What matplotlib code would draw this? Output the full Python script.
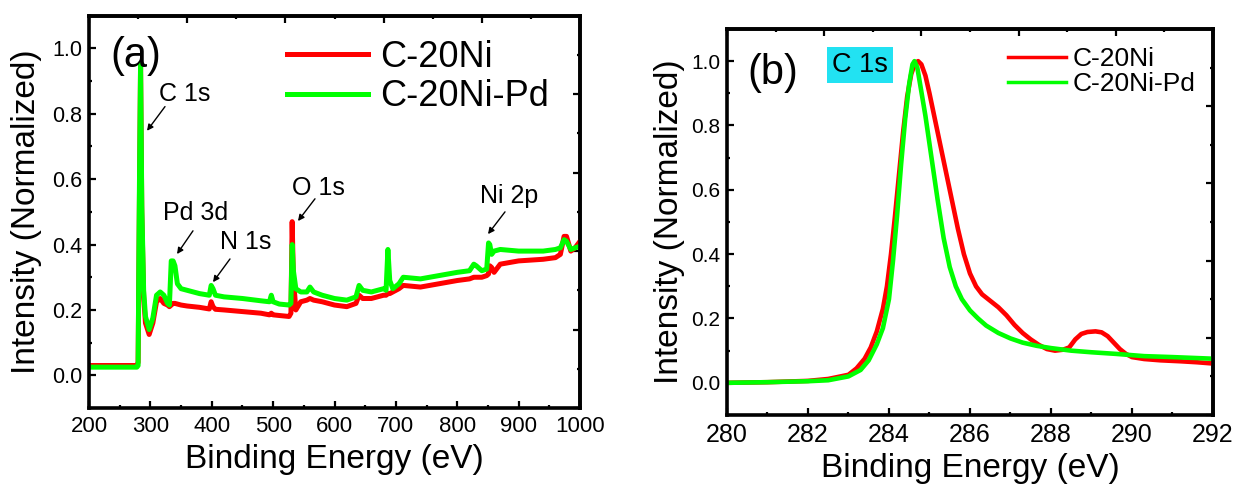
import numpy as np
import matplotlib
matplotlib.use("Agg")
import matplotlib.pyplot as plt
from matplotlib.ticker import FixedLocator, MultipleLocator, FormatStrFormatter

plt.rcParams['font.family'] = ['Liberation Sans', 'DejaVu Sans']

# ---------------- data : panel (a) survey ----------------
survey_x = [200, 250, 278, 280, 282, 284, 286, 289, 292, 298, 304, 310, 316, 322, 328,
            331, 334, 337, 340, 344, 350, 360, 380, 396, 399, 402, 406, 420, 450, 480,
            494, 497, 500, 510, 526, 529, 531, 533, 537, 545, 555, 560, 566, 580, 600,
            620, 635, 640, 646, 660, 680, 684, 687, 690, 695, 705, 712, 740, 770, 800,
            820, 827, 831, 840, 848, 851, 853, 856, 860, 870, 900, 940, 960, 968, 974,
            978, 985, 992, 1000]
survey_ni = [0.030, 0.030, 0.030, 0.040, 0.50, 0.950, 0.50, 0.24, 0.16, 0.125, 0.16, 0.225, 0.235, 0.220, 0.215,
             0.210, 0.215, 0.220, 0.220, 0.218, 0.215, 0.212, 0.208, 0.203, 0.225, 0.210, 0.202, 0.200, 0.195, 0.190,
             0.185, 0.190, 0.185, 0.183, 0.180, 0.190, 0.470, 0.300, 0.200, 0.225, 0.230, 0.235, 0.230, 0.225, 0.215,
             0.210, 0.220, 0.245, 0.235, 0.235, 0.245, 0.245, 0.250, 0.250, 0.255, 0.265, 0.275, 0.270, 0.280, 0.290,
             0.295, 0.300, 0.300, 0.300, 0.305, 0.310, 0.335, 0.330, 0.315, 0.340, 0.350, 0.355, 0.360, 0.370, 0.425,
             0.425, 0.380, 0.390, 0.410]
survey_nipd = [0.025, 0.025, 0.025, 0.030, 0.55, 0.955, 0.52, 0.26, 0.18, 0.140, 0.175, 0.245, 0.255, 0.245, 0.220,
               0.215, 0.350, 0.350, 0.335, 0.280, 0.265, 0.260, 0.250, 0.245, 0.275, 0.265, 0.245, 0.240, 0.235, 0.228,
               0.225, 0.245, 0.225, 0.218, 0.215, 0.220, 0.400, 0.320, 0.265, 0.255, 0.255, 0.270, 0.255, 0.245, 0.235,
               0.230, 0.240, 0.275, 0.260, 0.255, 0.265, 0.260, 0.385, 0.290, 0.265, 0.280, 0.300, 0.295, 0.305, 0.315,
               0.320, 0.340, 0.335, 0.320, 0.325, 0.405, 0.400, 0.370, 0.380, 0.385, 0.380, 0.380, 0.385, 0.390, 0.415,
               0.410, 0.385, 0.390, 0.395]

# ---------------- data : panel (b) C 1s ----------------
c1s_ni_x = [280, 281, 282, 282.5, 283.0, 283.2, 283.4, 283.55, 283.7, 283.85, 283.95, 284.05, 284.15,
            284.25, 284.35, 284.45, 284.55, 284.65, 284.72, 284.8, 284.9, 285.0, 285.1, 285.3, 285.5,
            285.7, 285.85, 286.0, 286.15, 286.3, 286.5, 286.7, 286.9, 287.1, 287.3, 287.5, 287.7,
            287.9, 288.1, 288.3, 288.45, 288.6, 288.75, 288.9, 289.1, 289.25, 289.4, 289.55, 289.7,
            289.85, 290.0, 290.3, 290.7, 291.2, 291.6, 292.0]
c1s_ni_y = [0.0, 0.002, 0.006, 0.012, 0.025, 0.045, 0.075, 0.11, 0.16, 0.23, 0.30, 0.40, 0.52,
            0.65, 0.78, 0.89, 0.96, 0.995, 1.0, 0.99, 0.955, 0.90, 0.84, 0.72, 0.60,
            0.48, 0.40, 0.34, 0.30, 0.275, 0.255, 0.235, 0.21, 0.18, 0.155, 0.135, 0.118,
            0.105, 0.100, 0.103, 0.110, 0.135, 0.152, 0.158, 0.160, 0.157, 0.145, 0.125, 0.105,
            0.090, 0.080, 0.074, 0.070, 0.067, 0.064, 0.060]
c1s_nipd_x = [280, 281, 282, 282.5, 283.0, 283.3, 283.5, 283.7, 283.85, 284.0, 284.1, 284.2, 284.3,
              284.4, 284.5, 284.58, 284.63, 284.7, 284.78, 284.9, 285.05, 285.2, 285.35, 285.5, 285.65,
              285.8, 286.0, 286.2, 286.4, 286.7, 287.0, 287.3, 287.65, 288.0, 288.5, 289.0, 289.6,
              290.3, 291.0, 291.6, 292.0]
c1s_nipd_y = [0.0, 0.002, 0.005, 0.008, 0.020, 0.040, 0.070, 0.12, 0.17, 0.26, 0.38, 0.52, 0.68,
              0.82, 0.93, 0.99, 1.0, 0.98, 0.92, 0.83, 0.70, 0.57, 0.45, 0.36, 0.30,
              0.26, 0.225, 0.20, 0.178, 0.155, 0.138, 0.125, 0.115, 0.108, 0.100, 0.095, 0.090,
              0.083, 0.080, 0.077, 0.075]

series_labels = ['C-20Ni', 'C-20Ni-Pd']
series_colors = ['#ff0000', '#00ff00']

# peak annotations (label, arrow head (eV, I), arrow tail (eV, I), text centre (eV, I))
peak_labels = ['C 1s', 'Pd 3d', 'N 1s', 'O 1s', 'Ni 2p']
peak_heads = [(294.5, 0.748), (343.4, 0.371), (402.0, 0.285), (540.5, 0.472), (850.1, 0.432)]
peak_tails = [(323.8, 0.822), (369.4, 0.442), (429.7, 0.356), (568.2, 0.540), (877.8, 0.500)]
peak_text = [(356.4, 0.862), (374.3, 0.497), (455.8, 0.408), (573.1, 0.574), (884.3, 0.549)]

fig = plt.figure(figsize=(12.38, 4.88), dpi=100)
ax1 = fig.add_axes([0.0719, 0.1639, 0.3966, 0.8039])
ax2 = fig.add_axes([0.5872, 0.1496, 0.3926, 0.7910])


def style_axes(ax, xlim, ylim, xmaj, xmin, xtick_fs, ytick_fs):
    ax.set_xlim(*xlim)
    ax.set_ylim(*ylim)
    ax.xaxis.set_major_locator(MultipleLocator(xmaj))
    ax.xaxis.set_minor_locator(MultipleLocator(xmin))
    ax.yaxis.set_major_locator(MultipleLocator(0.2))
    ax.yaxis.set_minor_locator(MultipleLocator(0.1))
    ax.yaxis.set_major_formatter(FormatStrFormatter('%.1f'))
    ax.tick_params(which='both', direction='in', top=False, right=False, width=1.6)
    ax.tick_params(which='major', length=5)
    ax.tick_params(which='minor', length=2.5)
    ax.tick_params(axis='x', labelsize=xtick_fs, pad=6)
    ax.tick_params(axis='y', labelsize=ytick_fs, pad=5)
    for s in ax.spines.values():
        s.set_linewidth(2.6)
    # top / right axes: 5 major divisions, one minor between
    tmaj = np.linspace(xlim[0], xlim[1], 6)
    tmin = (tmaj[:-1] + tmaj[1:]) / 2
    sx = ax.secondary_xaxis('top')
    sx.xaxis.set_major_locator(FixedLocator(tmaj))
    sx.xaxis.set_minor_locator(FixedLocator(tmin))
    sx.tick_params(which='both', direction='in', labeltop=False, width=1.6)
    sx.tick_params(which='major', length=5)
    sx.tick_params(which='minor', length=2.5)
    rmaj = np.linspace(ylim[0], ylim[1], 6)
    rmin = (rmaj[:-1] + rmaj[1:]) / 2
    sy = ax.secondary_yaxis('right')
    sy.yaxis.set_major_locator(FixedLocator(rmaj))
    sy.yaxis.set_minor_locator(FixedLocator(rmin))
    sy.tick_params(which='both', direction='in', labelright=False, width=1.6)
    sy.tick_params(which='major', length=5)
    sy.tick_params(which='minor', length=2.5)
    for sec in (sx, sy):
        for s in sec.spines.values():
            s.set_linewidth(2.6)


# ---------------- panel (a) ----------------
ax1.plot(survey_x, survey_ni, color=series_colors[0], lw=3.6, label=series_labels[0],
         solid_joinstyle='round')
ax1.plot(survey_x, survey_nipd, color=series_colors[1], lw=3.6, label=series_labels[1],
         solid_joinstyle='round')
style_axes(ax1, (200, 1000), (-0.1, 1.1), 100, 50, 16, 15.5)
ax1.set_xlabel('Binding Energy (eV)', fontsize=24)
ax1.set_ylabel('Intensity (Normalized)', fontsize=24)
ax1.xaxis.set_label_coords(0.5, -0.092)
ax1.yaxis.set_label_coords(-0.095, 0.5)

for lab, hd, tl, tx in zip(peak_labels, peak_heads, peak_tails, peak_text):
    ax1.annotate('', xy=hd, xytext=tl,
                 arrowprops=dict(arrowstyle='-|>', color='black', lw=1.0,
                                 mutation_scale=9, shrinkA=0, shrinkB=0))
    ax1.text(tx[0], tx[1], lab, fontsize=18, ha='center', va='center')

ax1.text(0.0957, 0.8985, '(a)', transform=ax1.transAxes, fontsize=30,
         ha='center', va='center')
leg1 = ax1.legend(loc='upper left', bbox_to_anchor=(0.403, 0.938), frameon=False,
                  fontsize=26, handlelength=2.25, handletextpad=0.33,
                  labelspacing=0.12, borderpad=0, borderaxespad=0)

# ---------------- panel (b) ----------------
ax2.plot(c1s_ni_x, c1s_ni_y, color=series_colors[0], lw=3.3, label=series_labels[0],
         solid_joinstyle='round')
ax2.plot(c1s_nipd_x, c1s_nipd_y, color=series_colors[1], lw=3.3, label=series_labels[1],
         solid_joinstyle='round')
style_axes(ax2, (280, 292), (-0.1, 1.1), 2, 1, 18, 15)
ax2.set_xlabel('Binding Energy (eV)', fontsize=24)
ax2.set_ylabel('Intensity (Normalized)', fontsize=24)
ax2.xaxis.set_label_coords(0.5, -0.098)
ax2.yaxis.set_label_coords(-0.086, 0.5)

ax2.text(0.0936, 0.8865, '(b)', transform=ax2.transAxes, fontsize=30,
         ha='center', va='center')
ax2.text(0.274, 0.9067, 'C 1s', transform=ax2.transAxes, fontsize=19.5,
         ha='center', va='center',
         bbox=dict(boxstyle='square,pad=0.2', fc='#22e2f2', ec='none'))
leg2 = ax2.legend(loc='upper left', bbox_to_anchor=(0.578, 0.954), frameon=False,
                  fontsize=19, handlelength=2.2, handletextpad=0.25,
                  labelspacing=0.05, borderpad=0, borderaxespad=0)
for ln in leg2.get_lines():
    ln.set_linewidth(2.5)

fig.savefig('out.png', dpi=100)
